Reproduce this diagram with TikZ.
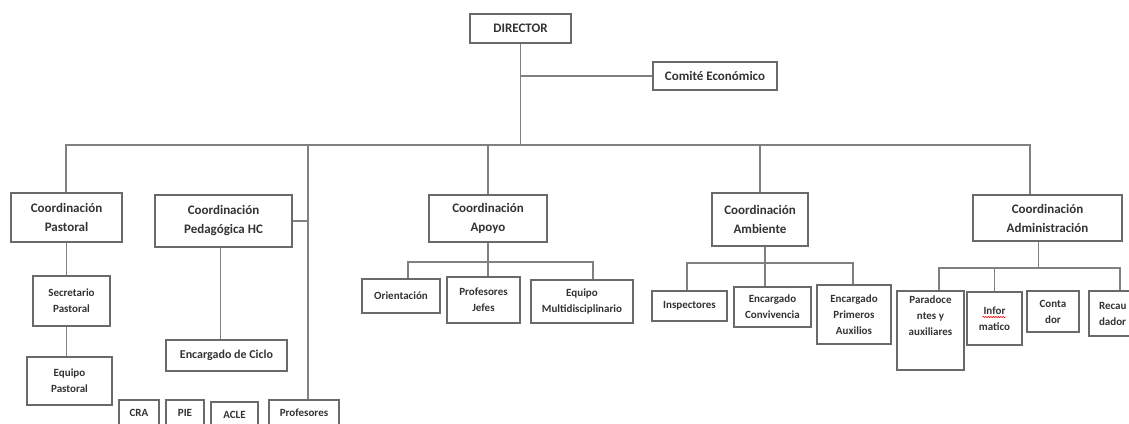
\documentclass[tikz,border=0pt]{standalone}
\usepackage{fontspec}
\setmainfont{Carlito}
\usetikzlibrary{calc,decorations.pathmorphing}
\definecolor{boxc}{HTML}{6A6A6A}
\definecolor{linec}{HTML}{808080}
\definecolor{txt}{HTML}{333333}
\tikzset{
  box/.style={draw=boxc, line width=1.3pt, align=center, inner sep=1pt, text=txt,
    font=\bfseries\fontsize{13}{19}\selectfont},
  sbox/.style={box, font=\bfseries\fontsize{11}{16}\selectfont},
  mbox/.style={box, font=\bfseries\fontsize{12}{16}\selectfont},
  stext/.style={align=center, inner sep=0pt, text=txt, font=\bfseries\fontsize{11}{16}\selectfont},
  conn/.style={draw=linec, line width=1.5pt},
  squiggle/.style={draw=red, line width=0.6pt, decorate,
    decoration={snake, amplitude=0.6pt, segment length=2.5pt}}
}
\newcommand\mybox[7]{\node[#6, minimum width={#4-#2}, minimum height={#5-#3}] (#1) at ({(#2+#4)/2},{(#3+#5)/2}) {#7};}
\begin{document}
\begin{tikzpicture}[x=1pt,y=-1pt]
\useasboundingbox (0,0) rectangle (1129,423);
% top
\mybox{dir}{470}{14}{571}{43}{box}{DIRECTOR}
\mybox{com}{653}{62}{777}{90}{box}{Comité Económico}
% coordinations
\mybox{cp}{11}{193}{122}{242}{box}{Coordinación\\Pastoral}
\mybox{ped}{155}{195}{292}{247}{box}{Coordinación\\Pedagógica HC}
\mybox{cap}{429}{195}{547}{242}{box}{Coordinación\\Apoyo}
\mybox{camb}{712}{193}{808}{246}{box}{Coordinación\\Ambiente}
\mybox{cadm}{973}{195}{1122}{241}{box}{Coordinación\\Administración}
% pastoral
\mybox{sp}{33}{276}{110}{326}{sbox}{Secretario\\Pastoral}
\mybox{ep}{27}{357}{112}{405}{sbox}{Equipo\\Pastoral}
% pedagogica
\mybox{ec}{166}{340}{287}{371}{mbox}{Encargado de Ciclo}
\mybox{cra}{119}{400}{159}{425}{sbox}{CRA}
\mybox{pie}{166}{400}{204}{425}{sbox}{PIE}
\mybox{acle}{211}{402}{258}{427}{sbox}{ACLE}
\mybox{prof}{269}{400}{339}{425}{sbox}{Profesores}
% apoyo
\mybox{ori}{362}{279}{440}{313}{sbox}{Orientación}
\mybox{pj}{447}{277}{520}{323}{sbox}{Profesores\\Jefes}
\mybox{eqm}{531}{280}{633}{323}{sbox}{Equipo\\Multidisciplinario}
% ambiente
\mybox{ins}{652}{291}{727}{321}{sbox}{Inspectores}
\mybox{conv}{734}{287}{811}{327}{sbox}{Encargado\\Convivencia}
\mybox{epa}{817}{285}{891}{344}{sbox}{Encargado\\Primeros\\Auxilios}
% administracion
\mybox{par}{897}{291}{964}{370}{sbox}{}
\node[stext, anchor=north] (partxt) at ($(par.north)+(0,5)$) {Paradoce\\ntes y\\auxiliares};
\mybox{inf}{967}{292}{1022}{345}{sbox}{Infor\\matico}
\mybox{cont}{1027}{291}{1079}{332}{sbox}{Conta\\dor}
\node[sbox, align=left, text width=42pt, inner xsep=10pt, minimum height=45pt] (rec) at (1120,313.5) {Recau\\dador};
\draw[squiggle] ($(inf.center)+(-12,-1.5)$) -- ($(inf.center)+(11,-1.5)$);
% connectors
\coordinate (busL) at (66,145);
\coordinate (busR) at (1030,145);
\coordinate (pv) at (308,145);
\draw[conn] (busL |- cp.north) -- (busL) -- (busR) -- (busR |- cadm.north);
\draw[conn] (dir.south) -- (dir.south |- busL);
\draw[conn] (com.west) -- (com.west -| dir.south);
\draw[conn] (pv) -- (pv |- prof.north);
\draw[conn] (ped.east) -- (ped.east -| pv);
\draw[conn] (cap.north) -- (cap.north |- busL);
\draw[conn] (camb.north) -- (camb.north |- busL);
% pastoral chain
\draw[conn] (cp.south) -- (cp.south |- sp.north);
\draw[conn] (sp.south -| cp.south) -- (ep.north -| cp.south);
% pedagogica
\draw[conn] ($(ped.south)+(-3,0)$) -- ($(ped.south |- ec.north)+(-3,0)$);
% apoyo
\coordinate (a1) at (408,262);
\coordinate (a2) at (593,262);
\draw[conn] (a1 |- ori.north) -- (a1) -- (a2) -- (a2 |- eqm.north);
\draw[conn] (cap.south) -- (cap.south |- pj.north);
% ambiente
\coordinate (b1) at (687,263);
\coordinate (b2) at (853,263);
\draw[conn] (b1 |- ins.north) -- (b1) -- (b2) -- (b2 |- epa.north);
\draw[conn] ($(camb.south)+(5,0)$) -- ($(camb.south |- conv.north)+(5,0)$);
% administracion
\coordinate (c1) at (939,268);
\coordinate (c2) at (1120,268);
\draw[conn] (c1 |- par.north) -- (c1) -- (c2) -- (rec.north);
\draw[conn] ($(cadm.south)+(-9,0)$) -- ($(cadm.south |- c1)+(-9,0)$);
\draw[conn] (inf.north) -- (inf.north |- c1);
\end{tikzpicture}
\end{document}
